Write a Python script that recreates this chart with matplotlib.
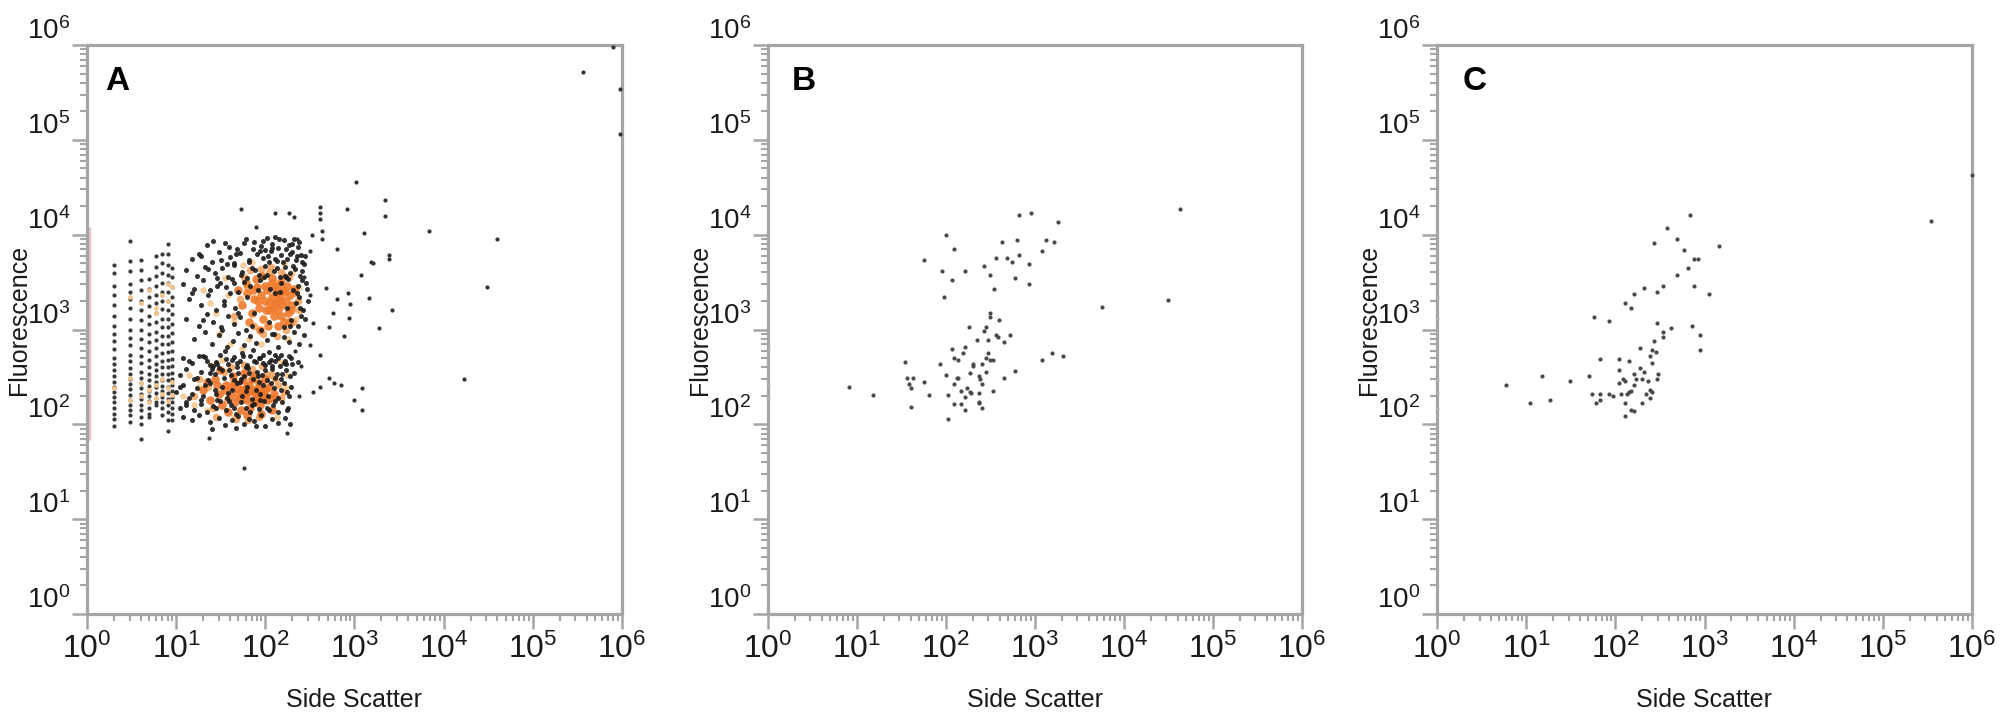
import matplotlib
matplotlib.use('agg')
import matplotlib.pyplot as plt
from matplotlib.ticker import LogLocator, LogFormatterMathtext, NullFormatter

plt.rcParams['font.family'] = ['Liberation Sans', 'DejaVu Sans']
plt.rcParams['mathtext.fontset'] = 'custom'
plt.rcParams['mathtext.rm'] = 'Liberation Sans'

# ---------------- panel A data ----------------
# pile-up of events on the left edge (x = 1)
edgeA_y = [68, 12000]

# quantised low side-scatter columns
stripe_x = [2, 3, 4, 5, 6, 7, 8, 9]
col2_y = [4800, 3900, 2900, 2300, 1800, 1400, 1100, 900, 760, 620, 500, 430, 370, 320, 280, 250, 220, 195, 170, 150, 130, 115, 95]
col3_y = [8600, 5300, 4100, 3000, 2500, 2100, 1700, 1300, 1000, 820, 690, 540, 460, 390, 340, 300, 265, 235, 205, 180, 160, 140, 125, 107]
col4_y = [5400, 4200, 3300, 2600, 2000, 1600, 1250, 980, 800, 640, 520, 440, 360, 310, 275, 240, 210, 185, 160, 140, 120, 100, 70]
col5_y = [3400, 2700, 2200, 1750, 1400, 1150, 900, 730, 600, 480, 400, 340, 295, 255, 225, 200, 175, 150, 130, 120]
col6_y = [6000, 4600, 3700, 2900, 2300, 1900, 1500, 1200, 950, 780, 640, 520, 430, 370, 320, 280, 245, 215, 190, 170, 158]
col7_y = [6300, 5000, 3900, 3100, 2500, 2000, 1650, 1300, 1050, 850, 700, 570, 470, 400, 340, 290, 255, 225, 195, 170, 150, 126]
col8_y = [7900, 6200, 4800, 3800, 3100, 2500, 2000, 1600, 1300, 1050, 860, 710, 580, 480, 400, 340, 290, 250, 215, 185, 160, 135, 110, 85]
col9_y = [4500, 3600, 2800, 2200, 1800, 1450, 1150, 920, 740, 600, 490, 410, 350, 300, 260, 225, 195, 170, 150, 130, 110]

paleA_x = [2, 3, 3, 4, 4, 5, 5, 6, 6, 7, 7, 8, 8, 9, 9, 3, 4, 5, 6, 7, 8, 9, 6, 8]
paleA_y = [240, 180, 310, 200, 270, 230, 170, 260, 190, 210, 300, 240, 175, 280, 205,
           2200, 1900, 2600, 1700, 2300, 2000, 2800, 1500, 3000]

# pale haze of medium-density events
hazeA_x = [20, 28, 35, 44, 56, 70, 160, 200, 240, 30, 40, 55, 180, 220, 14, 18, 25, 33, 150, 175,
           12, 16, 22, 45, 135, 170, 24, 38, 65, 90]
hazeA_y = [2600, 1500, 3500, 1200, 4800, 5200, 5000, 3900, 2800, 900, 700, 620, 800, 1300, 330, 250, 420, 480, 450, 330,
           200, 160, 140, 120, 120, 250, 1900, 2300, 800, 700]

# upper population, low density (black)
upA_x = [22, 35, 48, 60, 75, 90, 105, 120, 140, 160, 185, 210, 240, 130, 100,
         15, 18, 25, 30, 40, 52, 65, 80, 95, 115, 135, 150, 175, 200, 225, 260, 280, 45, 110,
         13, 17, 21, 27, 33, 38, 44, 55, 62, 70, 85, 98, 125, 145, 165, 190, 215, 245, 270, 29,
         12, 16, 20, 24, 31, 36, 42, 50, 58, 230, 255, 205, 180, 290, 68, 88, 112, 150,
         14, 19, 23, 28, 34, 40, 46, 240, 265, 220, 300, 75, 130, 175,
         13, 18, 22, 26, 32, 38, 45, 52, 195, 230, 250, 60, 110, 160, 280,
         16, 21, 25, 30, 37, 43, 50, 58, 67, 78, 90, 105, 120, 140, 160, 185, 210, 240, 270, 33,
         20, 28, 35, 42, 55, 63, 72, 85, 95, 110, 130, 150, 170, 195, 48, 24, 120, 230,
         26, 39, 57, 73, 93, 118, 142, 170, 198, 235, 19, 32, 47, 66, 87, 108, 128, 158, 188, 218, 250,
         23, 37, 53, 76, 97, 136, 168, 205, 260, 15, 29, 44, 63, 83, 104, 146, 172, 228, 285,
         20, 34, 49, 71, 125, 190, 245]
upA_y = [7800, 8200, 7100, 9000, 8400, 7600, 9300, 8000, 7300, 8800, 7700, 9100, 8300, 9500, 6900,
         5600, 6300, 5200, 6600, 5800, 6400, 5400, 6200, 5700, 6700, 5300, 6100, 5500, 6500, 5900, 5200, 6000, 5000, 5100,
         4200, 3700, 4600, 3900, 4400, 3600, 4800, 4000, 3500, 4500, 3800, 4700, 4100, 3600, 4600, 3900, 4300, 3700, 4900, 3500,
         3000, 2700, 3300, 2600, 3100, 2800, 3400, 2500, 3200, 2900, 3300, 2600, 3400, 2700, 2900, 3300, 2700, 3100,
         2100, 1800, 2300, 1600, 2000, 2400, 1700, 2200, 1600, 1900, 2000, 1500, 2400, 1700,
         1300, 1100, 1450, 1200, 1050, 1400, 1150, 1350, 1250, 1100, 1400, 1000, 1200, 1050, 1300,
         800, 950, 700, 870, 650, 760, 920, 680, 850, 720, 980, 780, 900, 660, 830, 740, 950, 700, 880, 1000,
         520, 450, 600, 480, 560, 420, 610, 500, 440, 580, 470, 540, 430, 500, 400, 420, 410, 450,
         8600, 7400, 8100, 7000, 8500, 7300, 9000, 7100, 8000, 7500, 5900, 5400, 6200, 5100, 6800, 6000, 5600, 5200, 6300, 5400, 6100,
         4300, 4900, 3800, 4200, 3600, 4400, 3700, 4700, 4100, 2400, 2900, 3100, 2200, 2600, 3800, 2500, 3600, 2400, 3100,
         1250, 1800, 1500, 1100, 900, 1100, 1700]

# upper population, high density (orange)
upA_core_x = [55, 62, 70, 75, 80, 85, 90, 95, 100, 105, 110, 115, 120, 125, 130, 135, 140, 145, 150, 155,
              160, 165, 170, 180, 190, 200, 210, 78, 92, 108, 118, 128, 138, 50, 65, 88, 98, 112, 122, 132,
              148, 175, 185, 60, 72, 82, 102, 142, 158, 195]
upA_core_y = [1800, 2400, 1500, 2100, 2800, 1700, 2300, 1300, 2000, 2600, 1600, 3000, 2200, 1400, 1900, 2700, 1600, 2200, 3200, 1800,
              1200, 2500, 2000, 1500, 2300, 1800, 2700, 3400, 3700, 1100, 3500, 2900, 1100, 2600, 1200, 1000, 2900, 1900, 1700, 2400,
              1400, 2900, 1200, 3100, 2600, 2000, 1600, 2000, 2600, 1600]
upA_fringe_x = [45, 58, 68, 90, 115, 150, 185, 220, 240, 52, 95, 135, 170, 205, 75, 110, 160, 230, 62, 125]
upA_fringe_y = [1400, 3600, 4200, 4300, 4600, 4000, 3600, 2400, 1600, 2100, 900, 850, 1000, 1200, 1100, 4000, 3700, 2000, 2800, 3200]

# lower population, low density (black)
loA_x = [12, 15, 18, 22, 26, 31, 38, 45, 52, 60, 68, 78, 88, 100, 115, 130, 145, 165, 185, 200,
         11, 13, 16, 19, 23, 27, 30, 34, 39, 44, 50, 57, 64, 72, 80, 92, 105, 118, 135, 150, 170, 190, 210, 25, 85,
         10, 12, 14, 17, 20, 24, 28, 33, 37, 42, 48, 55, 62, 70, 78, 95, 108, 125, 140, 160, 175, 195, 29, 87,
         11, 13, 16, 19, 22, 26, 31, 36, 41, 47, 54, 60, 67, 75, 84, 96, 110, 122, 138, 155, 180, 45,
         12, 15, 18, 24, 30, 35, 42, 50, 58, 66, 75, 90, 100, 120, 140, 165, 190, 25, 47, 78,
         14, 21, 29, 36, 48, 56, 74, 95, 110, 140, 160, 17, 24, 33, 41, 53, 66, 82, 100, 130, 155,
         11, 15, 21, 27, 38, 52, 60, 115, 150, 185, 13, 19, 28, 39, 70, 88, 105, 130, 175]
loA_y = [500, 440, 530, 470, 410, 540, 430, 510, 460, 400, 530, 450, 500, 420, 480, 540, 410, 470, 520, 430,
         330, 380, 300, 360, 290, 340, 390, 310, 370, 290, 350, 320, 390, 300, 360, 330, 290, 380, 340, 300, 370, 320, 350, 380, 280,
         220, 260, 190, 240, 200, 270, 210, 250, 190, 230, 270, 200, 250, 185, 230, 260, 200, 240, 190, 270, 220, 250, 180, 210,
         150, 170, 140, 165, 135, 155, 175, 140, 160, 130, 170, 150, 135, 165, 145, 175, 140, 160, 135, 170, 150, 148,
         120, 110, 125, 105, 118, 98, 112, 122, 100, 115, 108, 125, 95, 115, 104, 118, 100, 90, 92, 96,
         470, 510, 430, 490, 440, 520, 470, 540, 450, 500, 440, 310, 350, 370, 330, 300, 350, 320, 370, 310, 340,
         250, 210, 260, 230, 215, 280, 225, 270, 230, 200, 160, 180, 150, 175, 160, 180, 150, 175, 140]

# lower population, high density (orange)
loA_core_x = [20, 24, 27, 30, 33, 36, 40, 43, 46, 50, 53, 56, 59, 62, 65, 68, 72, 76, 80, 84,
              88, 93, 98, 104, 110, 118, 126, 38, 45, 52, 58, 63, 70, 74, 82, 90, 96, 35, 48, 66,
              78, 86, 55, 61, 42, 29, 100, 115, 22, 31]
loA_core_y = [230, 180, 300, 210, 160, 260, 200, 320, 170, 240, 140, 290, 210, 180, 260, 150, 230, 330, 190, 270,
              160, 220, 300, 180, 250, 140, 210, 135, 280, 190, 350, 125, 300, 170, 240, 130, 200, 230, 210, 220,
              210, 200, 230, 240, 250, 260, 230, 190, 280, 370]
loA_fringe_x = [16, 18, 23, 26, 34, 41, 57, 71, 92, 120, 140, 150, 160, 28, 47, 64, 85, 105, 130, 37]
loA_fringe_y = [200, 300, 250, 150, 360, 400, 420, 380, 410, 330, 260, 190, 220, 120, 115, 110, 120, 340, 300, 180]

# scattered events at high side scatter / high fluorescence
outA_x = [1050, 2180, 2180, 820, 415, 415, 210, 127, 54, 78, 6800, 40000, 30800, 16800, 363000, 950000, 950000, 800000,
          1630, 1550, 2450, 2450, 2650, 1860, 1450, 1170, 1270, 840, 890, 870, 760, 640, 575, 478, 640, 430, 430, 415,
          330, 315, 315, 340, 315, 515, 415, 515, 590, 710, 340, 415, 1000, 1200, 1200, 240, 252, 215, 173, 58, 23.6, 268, 228, 182]
outA_y = [35700, 23400, 15900, 18700, 19800, 16900, 15200, 16900, 18700, 12100, 10900, 8900, 2800, 300, 525000, 340000, 115000, 950000,
          5000, 5100, 6100, 5500, 1600, 1030, 2130, 3720, 10400, 2450, 1860, 1320, 850, 2100, 1480, 2740, 7100, 9100, 11000, 14700,
          10000, 6700, 2300, 1180, 680, 1050, 540, 310, 275, 263, 220, 247, 180, 240, 141, 200, 410, 600, 81, 35, 71, 3600, 8900, 16900]

# ---------------- panel B data ----------------
B_x = [42600, 31600, 5600, 900, 660, 1830, 100, 124, 430, 620, 1330, 1630, 1190, 56, 365, 480, 660, 556, 860, 265,
       91, 163, 310, 118, 590, 860, 347, 96, 310, 310, 390, 183, 280, 265, 530, 365, 380, 225, 295, 450,
       118, 163, 155, 295, 1190, 1550, 2040, 124, 137, 280, 310, 340, 35, 86, 203, 253, 203, 280, 590, 186,
       100, 236, 134, 137, 450, 36, 43, 240, 56, 124, 253, 38, 40, 170, 8.1, 148, 186, 190, 236, 340,
       15, 65, 106, 163, 236, 236, 124, 148, 40, 253, 163, 106]
B_y = [18700, 2050, 1740, 16900, 16100, 13600, 9800, 7100, 8300, 8800, 8800, 8300, 6760, 5400, 5740, 5740, 6030, 5130, 4900, 4620,
       4170, 4170, 3720, 3330, 3530, 3000, 2700, 2180, 1480, 1350, 1260, 1070, 1070, 970, 870, 870, 830, 780, 780, 735,
       630, 660, 560, 560, 480, 560, 530, 505, 480, 495, 480, 480, 455, 430, 430, 430, 415, 360, 366, 347,
       330, 325, 311, 305, 311, 311, 311, 300, 280, 268, 268, 265, 240, 240, 250, 226, 220, 215, 215, 226,
       203, 203, 203, 193, 174, 166, 164, 164, 154, 147, 140, 113]
B_edge_y = [190, 260, 620]

# ---------------- panel C data ----------------
C_x = [687, 380, 490, 273, 1450, 590, 760, 850, 650, 490, 760, 340, 208, 290, 160, 1110, 129, 151, 58, 84,
       290, 725, 420, 340, 340, 890, 273, 187, 259, 890, 287, 246, 68, 110, 143, 259, 110, 187, 208, 160,
       303, 14.9, 51, 31.4, 121, 129, 169, 198, 234, 290, 110, 160, 6.0, 143, 151, 246, 259, 55, 68, 84,
       94, 115, 136, 221, 246, 60, 68, 129, 198, 10.9, 18.5, 151, 160, 129, 350000, 990000]
C_y = [16200, 11700, 9000, 8100, 7600, 6900, 5550, 5550, 4470, 3800, 2900, 2900, 2750, 2470, 2340, 2340, 1890, 1690, 1370, 1220,
       1170, 1100, 1040, 940, 840, 885, 750, 640, 610, 610, 575, 520, 490, 490, 465, 442, 376, 395, 355, 336,
       336, 320, 320, 288, 302, 288, 302, 302, 288, 302, 272, 259, 259, 219, 224, 232, 219, 209, 209, 209,
       200, 209, 209, 209, 188, 169, 179, 169, 169, 169, 179, 141, 138, 121, 13800, 43000]
C_edge_y = [150, 220, 300, 1300, 2200]

panel_letters = ['A', 'B', 'C']
x_label = 'Side Scatter'
y_label = 'Fluorescence'

# ---------------- figure ----------------
W, H, DPI = 2008, 723, 100
fig = plt.figure(figsize=(W / DPI, H / DPI), dpi=DPI)

spine_col = '#a5a5a5'
axes_px = [(87, 622), (768, 1302), (1437, 1972)]
top_px, bot_px = 45, 614

axs = []
for (l, r) in axes_px:
    ax = fig.add_axes([l / W, 1 - bot_px / H, (r - l) / W, (bot_px - top_px) / H])
    axs.append(ax)

dot_black = '#1c1c1c'
dot_gray = '#4a4a4a'

# panel A
a = axs[0]
a.vlines([1.04], edgeA_y[0], edgeA_y[1], color='#e8c3c7', lw=2.4, zorder=2)
cols = [col2_y, col3_y, col4_y, col5_y, col6_y, col7_y, col8_y, col9_y]
for xv, ys in zip(stripe_x, cols):
    a.scatter([xv] * len(ys), ys, s=9, color='#3a3a3a', linewidths=0, zorder=3)
a.scatter(paleA_x, paleA_y, s=12, color='#f2c38c', linewidths=0, zorder=4)
a.scatter(hazeA_x, hazeA_y, s=22, color='#f6cf9c', linewidths=0, zorder=2)
a.scatter(upA_fringe_x, upA_fringe_y, s=30, color='#f3a05a', alpha=0.85, linewidths=0, zorder=3)
a.scatter(loA_fringe_x, loA_fringe_y, s=30, color='#f3a05a', alpha=0.85, linewidths=0, zorder=3)
a.scatter(upA_core_x, upA_core_y, s=38, color='#ef7b2c', alpha=0.9, linewidths=0, zorder=4)
a.scatter(loA_core_x, loA_core_y, s=38, color='#ee762a', alpha=0.9, linewidths=0, zorder=4)
a.scatter(upA_x, upA_y, s=13, color=dot_black, alpha=0.9, linewidths=0, zorder=5)
a.scatter(loA_x, loA_y, s=13, color=dot_black, alpha=0.9, linewidths=0, zorder=5)
a.scatter(outA_x, outA_y, s=9, color='#333333', linewidths=0, zorder=5)

# panel B
b = axs[1]
b.scatter(B_x, B_y, s=9, color=dot_gray, linewidths=0, zorder=5)
b.scatter([1.02] * len(B_edge_y), B_edge_y, s=3, color='#bbbbbb', linewidths=0, zorder=5)

# panel C
c = axs[2]
c.scatter(C_x, C_y, s=9, color=dot_gray, linewidths=0, zorder=5, clip_on=False)
c.scatter([1.02] * len(C_edge_y), C_edge_y, s=3, color='#bbbbbb', linewidths=0, zorder=5)

letter_x = [0.034, 0.045, 0.047]
for ax, letter, lx in zip(axs, panel_letters, letter_x):
    ax.set_xscale('log')
    ax.set_yscale('log')
    ax.set_xlim(1, 1e6)
    ax.set_ylim(1, 1e6)
    for sp in ax.spines.values():
        sp.set_color(spine_col)
        sp.set_linewidth(2.3)
    ax.set_xticks([1, 10, 100, 1e3, 1e4, 1e5, 1e6])
    ax.set_yticks([1, 10, 100, 1e3, 1e4, 1e5, 1e6])
    ax.xaxis.set_minor_locator(LogLocator(base=10, subs=range(2, 10), numticks=100))
    ax.yaxis.set_minor_locator(LogLocator(base=10, subs=range(2, 10), numticks=100))
    ax.xaxis.set_major_formatter(LogFormatterMathtext())
    ax.yaxis.set_major_formatter(LogFormatterMathtext())
    ax.xaxis.set_minor_formatter(NullFormatter())
    ax.yaxis.set_minor_formatter(NullFormatter())
    ax.tick_params(which='major', length=11, width=1.8, color=spine_col, direction='out')
    ax.tick_params(which='minor', length=5, width=1.5, color=spine_col, direction='out')
    ax.tick_params(axis='x', labelsize=23, pad=3, labelcolor='#1a1a1a')
    ax.tick_params(axis='y', labelsize=20, pad=1, labelcolor='#1a1a1a')
    # y labels sit just above their tick in the reference
    for t in ax.get_yticklabels():
        t.set_verticalalignment('bottom')

    ax.text(0.5, -0.151, x_label, transform=ax.transAxes, ha='center', va='center',
            fontsize=18, color='#1a1a1a')
    ax.text(-0.128, 0.517, y_label, transform=ax.transAxes, ha='center', va='center',
            rotation=90, fontsize=18, color='#1a1a1a')
    ax.text(lx, 0.935, letter, transform=ax.transAxes, ha='left', va='center',
            fontsize=24, fontweight='bold', color='black')

fig.savefig('out.png', dpi=DPI, facecolor='white')
